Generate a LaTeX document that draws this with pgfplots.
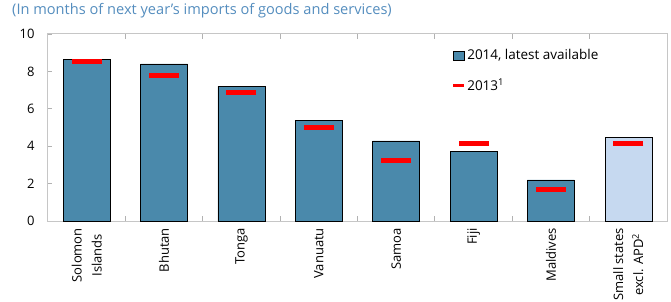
\documentclass[border=0pt]{standalone}
\usepackage{pgfplots}
\pgfplotsset{compat=1.18}
\usepackage{fontspec}
\setmainfont{Open Sans}
\definecolor{barblue}{RGB}{74,137,171}
\definecolor{lightbar}{RGB}{198,217,240}
\definecolor{titleblue}{RGB}{84,141,190}
\begin{document}
\begin{tikzpicture}
\begin{axis}[
  scale only axis,
  width=619pt, height=187pt,
  xmin=-0.5, xmax=7.5,
  ymin=0, ymax=10,
  ytick={0,2,4,6,8,10},
  xtick={0,1,2,3,4,5,6,7},
  xticklabels={{Solomon\\Islands},Bhutan,Tonga,Vanuatu,Samoa,Fiji,Maldives,{Small states\\excl. APD\textsuperscript{2}}},
  x tick label style={rotate=90, anchor=east, align=center, font=\fontsize{13}{20}\selectfont, inner sep=0pt},
  y tick label style={font=\fontsize{13}{14}\selectfont},
  /pgf/number format/assume math mode=true,
  major x tick style={draw=none},
  minor xtick={0.5,1.5,2.5,3.5,4.5,5.5,6.5},
  minor x tick style={gray!60, line width=0.8pt},
  minor tick length=5pt,
  major tick length=4pt,
  ytick pos=left,
  y tick style={gray!60, line width=0.8pt},
  axis line style={gray!45, line width=1pt},
  xticklabel shift=7pt,
  yticklabel shift=10pt,
  legend style={at={(0.652,0.925)}, anchor=north west, draw=none, fill=none,
    font=\fontsize{13.5}{15}\selectfont, row sep=14pt, inner sep=0pt,
    nodes={inner sep=1.5pt}},
  legend cell align=left,
  clip=false,
]
\addplot[ybar, bar width=47pt, bar shift=0pt, fill=barblue, draw=black, line width=0.6pt,
  legend image code/.code={\draw[fill=barblue, draw=black, line width=0.6pt] (0pt,-4.5pt) rectangle (11pt,4.5pt);}]
  coordinates {(0,8.66) (1,8.4) (2,7.2) (3,5.4) (4,4.28) (5,3.74) (6,2.2)};
\addlegendentry{2014, latest available}
\addplot[ybar, bar width=47pt, bar shift=0pt, fill=lightbar, draw=black, line width=0.6pt, forget plot]
  coordinates {(7,4.5)};
\addplot[only marks, mark=-, mark size=15pt, red, line width=5pt,
  legend image code/.code={\draw[red, line width=3pt] (0pt,0pt) -- (11pt,0pt);}]
  coordinates {(0,8.52) (1,7.78) (2,6.88) (3,4.98) (4,3.26) (5,4.12) (6,1.68) (7,4.12)};
\addlegendentry{2013\textsuperscript{1}}
\end{axis}
\node[anchor=north west, text=titleblue, font=\fontsize{14.6}{16}\selectfont, inner sep=0pt] at (-36pt,218pt) {(In months of next year's imports of goods and services)};
\pgfresetboundingbox
\path[use as bounding box] (-48pt,-81pt) rectangle (623pt,221pt);
\end{tikzpicture}
\end{document}
